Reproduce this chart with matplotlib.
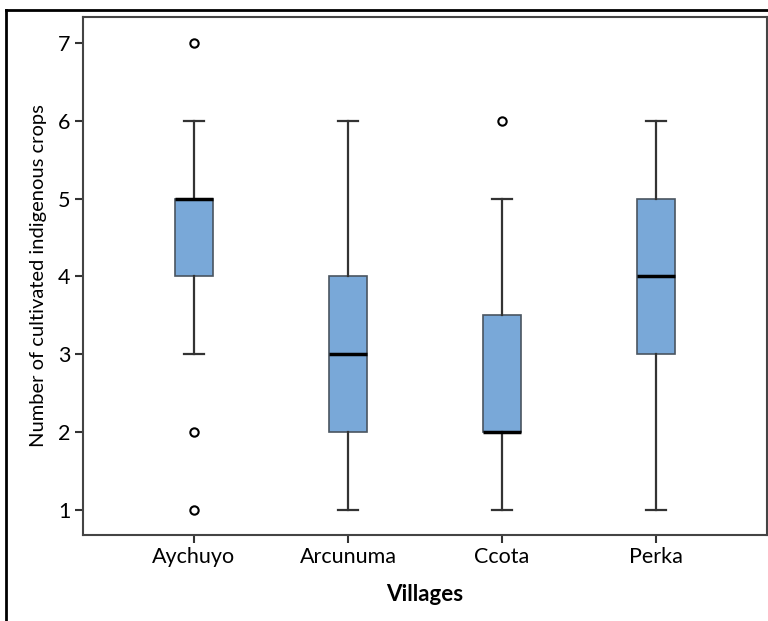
import matplotlib
matplotlib.use("Agg")
import matplotlib.pyplot as plt
from matplotlib.lines import Line2D

# village summary values
villages = ["Aychuyo", "Arcunuma", "Ccota", "Perka"]
whisker_low = [3, 1, 1, 1]
quartile_1 = [4, 2, 2, 3]
medians = [5, 3, 2, 4]
quartile_3 = [5, 4, 3.5, 5]
whisker_high = [6, 6, 5, 6]
outliers = [[7, 2, 1], [], [6], []]

stats = []
for i, name in enumerate(villages):
    stats.append({"label": name, "whislo": whisker_low[i], "q1": quartile_1[i],
                  "med": medians[i], "q3": quartile_3[i], "whishi": whisker_high[i],
                  "fliers": outliers[i]})

plt.rcParams['font.family'] = ['Lato', 'DejaVu Sans']

fig = plt.figure(figsize=(7.68, 6.21), dpi=100)
ax = fig.add_axes([0.108, 0.1385, 0.8907, 0.834])

edge = "#333333"
ax.bxp(stats, positions=range(1, len(villages) + 1), widths=0.25, patch_artist=True,
       boxprops=dict(facecolor="#79a8d8", edgecolor="#4a5560", linewidth=1.2),
       medianprops=dict(color="black", linewidth=2.5),
       whiskerprops=dict(color=edge, linewidth=1.6),
       capprops=dict(color=edge, linewidth=1.6),
       capwidths=0.13,
       flierprops=dict(marker="o", markerfacecolor="white", markeredgecolor="black",
                       markersize=6, markeredgewidth=1.5))

ax.set_xlim(0.28, 4.72)
ax.set_ylim(0.68, 7.33)
ax.set_yticks([1, 2, 3, 4, 5, 6, 7])
ax.set_xticks(range(1, len(villages) + 1))
ax.set_xticklabels(villages)
ax.tick_params(axis='both', direction='out', length=6, width=1.5, color=edge,
               labelsize=15.5, pad=3)

for s in ax.spines.values():
    s.set_color("#444444")
    s.set_linewidth(1.5)

ax.set_ylabel("Number of cultivated indigenous crops", fontsize=14.5, labelpad=8)
ax.set_xlabel("Villages", fontsize=16, fontweight="bold", labelpad=12)

# outer frame around the figure (only left and top visible)
fig.add_artist(Line2D([6 / 768, 6 / 768], [0, 1 - 10 / 621], color="black",
                      linewidth=2, transform=fig.transFigure))
fig.add_artist(Line2D([6 / 768, 1], [1 - 10 / 621, 1 - 10 / 621], color="black",
                      linewidth=2, transform=fig.transFigure))

fig.savefig("out.png", dpi=100)
